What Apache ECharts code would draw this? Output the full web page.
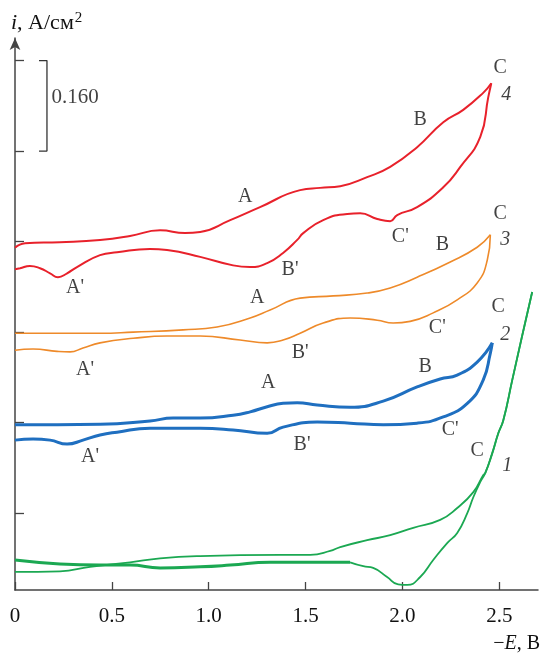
<!DOCTYPE html>
<html>
<head>
<meta charset="utf-8">
<script src="https://cdn.jsdelivr.net/npm/echarts@6/dist/echarts.min.js"></script>
<style>html,body{margin:0;padding:0;background:#fff}#c{width:540px;height:655px}</style>
</head>
<body>
<div id="c"></div>
<script>
const xTicks = [0, 0.5, 1.0, 1.5, 2.0, 2.5];
const yTicks = [0.16, 0.32, 0.48, 0.64, 0.80, 0.96];

// curve 4 (red)
const curve4Forward = [[0,0.629],[0.052,0.637],[0.232,0.639],[0.439,0.643],[0.594,0.650],[0.749,0.660],[0.878,0.655],[0.956,0.657],[1.111,0.678],[1.265,0.701],[1.472,0.731],[1.575,0.735],[1.679,0.738],[1.818,0.754],[1.937,0.772],[2.076,0.807],[2.211,0.851],[2.314,0.873],[2.417,0.903],[2.459,0.920]];
const curve4Reverse = [[2.459,0.920],[2.443,0.895],[2.402,0.825],[2.299,0.772],[2.211,0.736],[2.076,0.701],[1.973,0.687],[1.937,0.676],[1.870,0.680],[1.782,0.690],[1.715,0.689],[1.591,0.678],[1.488,0.655],[1.457,0.643],[1.384,0.620],[1.302,0.602],[1.214,0.595],[1.126,0.598],[0.956,0.613],[0.785,0.625],[0.697,0.627],[0.527,0.621],[0.439,0.616],[0.320,0.595],[0.269,0.584],[0.222,0.577],[0.181,0.584],[0.129,0.593],[0.077,0.597],[0.026,0.593],[0,0.591]];

// curve 3 (orange)
const curve3Forward = [[0,0.478],[0.439,0.478],[0.610,0.480],[0.868,0.484],[1.043,0.489],[1.214,0.505],[1.317,0.519],[1.472,0.540],[1.643,0.544],[1.818,0.549],[1.937,0.558],[2.076,0.577],[2.247,0.604],[2.386,0.630],[2.454,0.652]];
const curve3Reverse = [[2.454,0.652],[2.438,0.607],[2.386,0.567],[2.283,0.537],[2.159,0.514],[2.040,0.499],[1.952,0.496],[1.870,0.501],[1.730,0.505],[1.591,0.496],[1.472,0.478],[1.384,0.466],[1.302,0.461],[1.162,0.466],[0.956,0.473],[0.785,0.473],[0.610,0.469],[0.439,0.461],[0.351,0.452],[0.284,0.445],[0.217,0.446],[0.093,0.450],[0,0.448]];

// curve 2 (blue)
const curve2Forward = [[0,0.316],[0.439,0.317],[0.697,0.323],[0.816,0.328],[0.956,0.328],[1.126,0.333],[1.214,0.339],[1.302,0.348],[1.384,0.354],[1.457,0.355],[1.560,0.351],[1.730,0.347],[1.901,0.358],[2.076,0.383],[2.195,0.397],[2.283,0.404],[2.386,0.427],[2.464,0.461]];
const curve2Reverse = [[2.464,0.461],[2.454,0.443],[2.417,0.395],[2.335,0.354],[2.211,0.330],[2.076,0.319],[1.901,0.316],[1.730,0.319],[1.560,0.321],[1.384,0.312],[1.302,0.301],[1.126,0.307],[0.956,0.310],[0.697,0.310],[0.527,0.303],[0.439,0.298],[0.351,0.289],[0.269,0.282],[0.181,0.289],[0.093,0.291],[0,0.289]];

// curve 1 (green)
const curve1ForwardA = [[0,0.077],[0.232,0.070],[0.439,0.068],[0.594,0.068],[0.749,0.063],[0.956,0.065],[1.111,0.068],[1.317,0.073],[1.730,0.073]];
const curve1ForwardB = [[1.730,0.073],[1.798,0.066],[1.849,0.063],[1.921,0.047],[1.978,0.034],[2.025,0.033],[2.092,0.047],[2.159,0.077],[2.231,0.107],[2.283,0.125],[2.335,0.160],[2.366,0.188],[2.402,0.215],[2.428,0.231],[2.464,0.266],[2.495,0.301],[2.521,0.324],[2.567,0.395],[2.618,0.473],[2.670,0.551]];
const curve1Reverse = [[2.670,0.551],[2.618,0.473],[2.567,0.395],[2.521,0.324],[2.495,0.301],[2.464,0.266],[2.428,0.231],[2.417,0.227],[2.366,0.197],[2.283,0.169],[2.195,0.148],[2.056,0.134],[1.937,0.121],[1.818,0.112],[1.679,0.100],[1.627,0.093],[1.524,0.086],[1.369,0.086],[0.956,0.084],[0.749,0.080],[0.594,0.073],[0.387,0.065],[0.232,0.057],[0,0.056]];

// scale bar (0.160 A/cm2)
const scaleBar = [[0.124,0.96],[0.165,0.96],[0.165,0.80],[0.124,0.80]];
const scaleText = '0.160';

// point labels [text, x, y]
const peakLabels = [
  ['A',1.188,0.719],['B',2.092,0.855],['C',2.505,0.947],['A\'',0.310,0.558],['B\'',1.420,0.590],['C\'',1.989,0.648],
  ['A',1.250,0.540],['B',2.206,0.634],['C',2.505,0.690],['A\'',0.362,0.413],['B\'',1.472,0.443],['C\'',2.180,0.487],
  ['A',1.307,0.390],['B',2.118,0.418],['C',2.495,0.524],['A\'',0.387,0.259],['B\'',1.482,0.280],['C\'',2.247,0.307],
  ['C',2.386,0.271]
];
const curveNumbers = [['4',2.536,0.899],['3',2.531,0.643],['2',2.531,0.475],['1',2.541,0.243]];

const FONT = '"Liberation Serif", "Times New Roman", serif';
const RED = '#e8212b', ORANGE = '#ee8a2a', BLUE = '#1f6fc0', GREEN = '#1ba852';

function line(data, color, width) {
  return { type: 'line', data: data, smooth: 0.5, symbol: 'none', lineStyle: { color: color, width: width }, silent: true, z: 3 };
}
function textPoints(arr, italic) {
  return {
    type: 'scatter', symbolSize: 1, itemStyle: { color: 'transparent' }, silent: true, z: 5,
    data: arr.map(d => ({ value: [d[1], d[2]], name: d[0] })),
    label: { show: true, position: 'inside', formatter: p => p.name, color: '#111', fontFamily: FONT, fontSize: 20, fontStyle: italic ? 'italic' : 'normal' }
  };
}

const chart = echarts.init(document.getElementById('c'), null, { renderer: 'canvas' });
chart.setOption({
  animation: false,
  backgroundColor: '#fff',
  grid: { left: 15, right: 2, top: 38, bottom: 65, containLabel: false },
  xAxis: {
    type: 'value', min: 0, max: 2.7,
    axisLine: { show: true, lineStyle: { color: '#444', width: 1.5 } },
    axisTick: { show: true, inside: true, length: 8, customValues: xTicks, lineStyle: { color: '#444', width: 1.3 } },
    axisLabel: { show: true, customValues: xTicks, margin: 16, fontFamily: FONT, fontSize: 21, color: '#111',
      formatter: v => (v === 0 ? '0' : v.toFixed(1)) },
    splitLine: { show: false }
  },
  yAxis: {
    type: 'value', min: 0.024, max: 1.0,
    axisLine: { show: true, symbol: ['none', 'arrow'], symbolSize: [8, 12], lineStyle: { color: '#444', width: 1.5 } },
    axisTick: { show: true, inside: true, length: 9, customValues: yTicks, lineStyle: { color: '#444', width: 1.3 } },
    axisLabel: { show: false },
    splitLine: { show: false }
  },
  graphic: [
    { type: 'text', left: 11, top: 11, style: { text: '{i|i}, А/см{s|2}', font: '22px ' + FONT, fill: '#111',
      rich: { i: { fontStyle: 'italic', fontSize: 22, fontFamily: FONT }, s: { fontSize: 15, fontFamily: FONT, padding: [0, 0, 10, 1] } } } },
    { type: 'text', right: 0, top: 634, style: { text: '−{e|E}, В', font: '20px ' + FONT, fill: '#111',
      rich: { e: { fontStyle: 'italic', fontSize: 20, fontFamily: FONT } } } }
  ],
  series: [
    line(curve1ForwardA, GREEN, 3),
    line(curve1ForwardB, GREEN, 1.8),
    line(curve1Reverse, GREEN, 1.8),
    line(curve2Forward, BLUE, 3),
    line(curve2Reverse, BLUE, 3),
    line(curve3Forward, ORANGE, 1.6),
    line(curve3Reverse, ORANGE, 1.6),
    line(curve4Forward, RED, 2),
    line(curve4Reverse, RED, 2),
    { type: 'line', data: scaleBar, symbol: 'none', smooth: false, lineStyle: { color: '#333', width: 1.3 }, silent: true },
    { type: 'scatter', symbolSize: 1, itemStyle: { color: 'transparent' }, silent: true,
      data: [{ value: [scaleBar[1][0], (scaleBar[1][1] + scaleBar[2][1]) / 2 + 0.014], name: scaleText }],
      label: { show: true, position: 'right', distance: 4, formatter: p => p.name, color: '#111', fontFamily: FONT, fontSize: 21 } },
    textPoints(peakLabels, false),
    textPoints(curveNumbers, true)
  ]
});
</script>
</body>
</html>
